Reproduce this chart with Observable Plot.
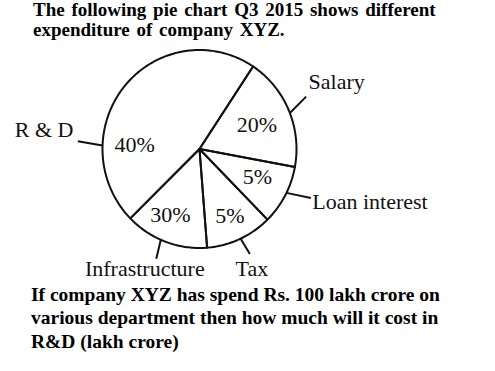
<!DOCTYPE html>
<html><head><meta charset="utf-8">
<script src="https://cdn.jsdelivr.net/npm/d3@7"></script>
<script src="https://cdn.jsdelivr.net/npm/@observablehq/plot@0.6"></script>
<style>
body{margin:0;background:#fff;width:495px;height:371px;overflow:hidden;position:relative;font-family:"Liberation Serif","Times New Roman",serif;color:#000}
.title{position:absolute;left:33px;top:0;font-weight:bold;font-size:19px;line-height:19.5px;word-spacing:2px;white-space:nowrap}
#chart{position:absolute;left:0;top:42px;}
.q{position:absolute;left:31px;top:283px;font-weight:bold;font-size:19.5px;line-height:23.3px;white-space:nowrap}
</style></head><body>
<div class="title">The following pie chart Q3 2015 shows different<br>expenditure of company XYZ.</div>
<div id="chart"></div>
<div class="q">If company XYZ has spend Rs. 100 lakh crore on<br>various department then how much will it cost in<br>R&amp;D (lakh crore)</div>
<script>
// Data (clockwise from the Salary slice)
const categories = ["Salary", "Loan interest", "Tax", "Infrastructure", "R & D"];
const percentLabels = ["20%", "5%", "5%", "30%", "40%"];
// slice sizes as drawn in the picture (degrees of arc)
const sliceDegrees = [67, 35, 40, 50, 168];

// Layout (polar placement, degrees clockwise from north, radius in pie radii)
const startDeg = 33.5;
const pctAt = [[67.4, 0.64], [115.4, 0.66], [155.2, 0.75], [204.2, 0.73], [273.7, 0.67]];
const leaderAt = [[68.7, 64.3, 1.22], [116.3, 113.3, 1.25], [154.9, 153.9, 1.18], [203.5, 201.9, 1.195], [272, 273.6, 1.257]];
const nameAt = [[58.75, 1.315, "start"], [114.6, 1.278, "start"], [156, 1.329, "middle"], [204.9, 1.339, "middle"], [278.6, 1.314, "end"]];

const W = 495, H = 240, cx = 199, cy = 106.5, Rx = 97, Ry = 99;
const rad = d => d * Math.PI / 180;
const px = (a, r) => r * Math.sin(a);
const py = (a, r) => -r * Math.cos(a);

const arcs = d3.pie().sort(null).value(d => d.v).startAngle(rad(startDeg)).endAngle(rad(startDeg + 360))(
  categories.map((c, i) => ({c, v: sliceDegrees[i]})));

const outline = [];
arcs.forEach(a => {
  outline.push({name: a.data.c, x: 0, y: 0});
  const n = Math.max(2, Math.ceil((a.endAngle - a.startAngle) / rad(1)));
  for (let k = 0; k <= n; k++) {
    const t = a.startAngle + (a.endAngle - a.startAngle) * k / n;
    outline.push({name: a.data.c, x: px(t, 1), y: py(t, 1)});
  }
  outline.push({name: a.data.c, x: 0, y: 0});
});

const pctRows = percentLabels.map((p, i) => ({p, x: px(rad(pctAt[i][0]), pctAt[i][1]), y: py(rad(pctAt[i][0]), pctAt[i][1])}));
const leaderRows = categories.map((c, i) => ({
  x1: px(rad(leaderAt[i][0]), 1), y1: py(rad(leaderAt[i][0]), 1),
  x2: px(rad(leaderAt[i][1]), leaderAt[i][2]), y2: py(rad(leaderAt[i][1]), leaderAt[i][2])
}));
const nameRows = categories.map((c, i) => ({c, x: px(rad(nameAt[i][0]), nameAt[i][1]), y: py(rad(nameAt[i][0]), nameAt[i][1]), anchor: nameAt[i][2]}));

const font = "'Liberation Serif', 'Times New Roman', serif";
const textMarks = ["start", "middle", "end"].map(an =>
  Plot.text(nameRows.filter(d => d.anchor === an), {x: "x", y: "y", text: "c", textAnchor: an, lineAnchor: "middle", fontSize: 22, fontFamily: font, fill: "#111"}));

const chart = Plot.plot({
  width: W, height: H,
  margin: 0,
  style: {background: "transparent", overflow: "visible"},
  x: {type: "linear", domain: [-cx / Rx, (W - cx) / Rx], range: [0, W], axis: null},
  y: {type: "linear", domain: [-cy / Ry, (H - cy) / Ry], range: [0, H], axis: null},
  marks: [
    Plot.line(outline, {x: "x", y: "y", z: "name", stroke: "#111", strokeWidth: 2, strokeLinejoin: "round"}),
    Plot.link(leaderRows, {x1: "x1", y1: "y1", x2: "x2", y2: "y2", stroke: "#111", strokeWidth: 2}),
    Plot.text(pctRows, {x: "x", y: "y", text: "p", lineAnchor: "middle", fontSize: 22, fontFamily: font, fill: "#111"}),
    ...textMarks
  ]
});
document.getElementById("chart").appendChild(chart);
</script>
</body></html>
